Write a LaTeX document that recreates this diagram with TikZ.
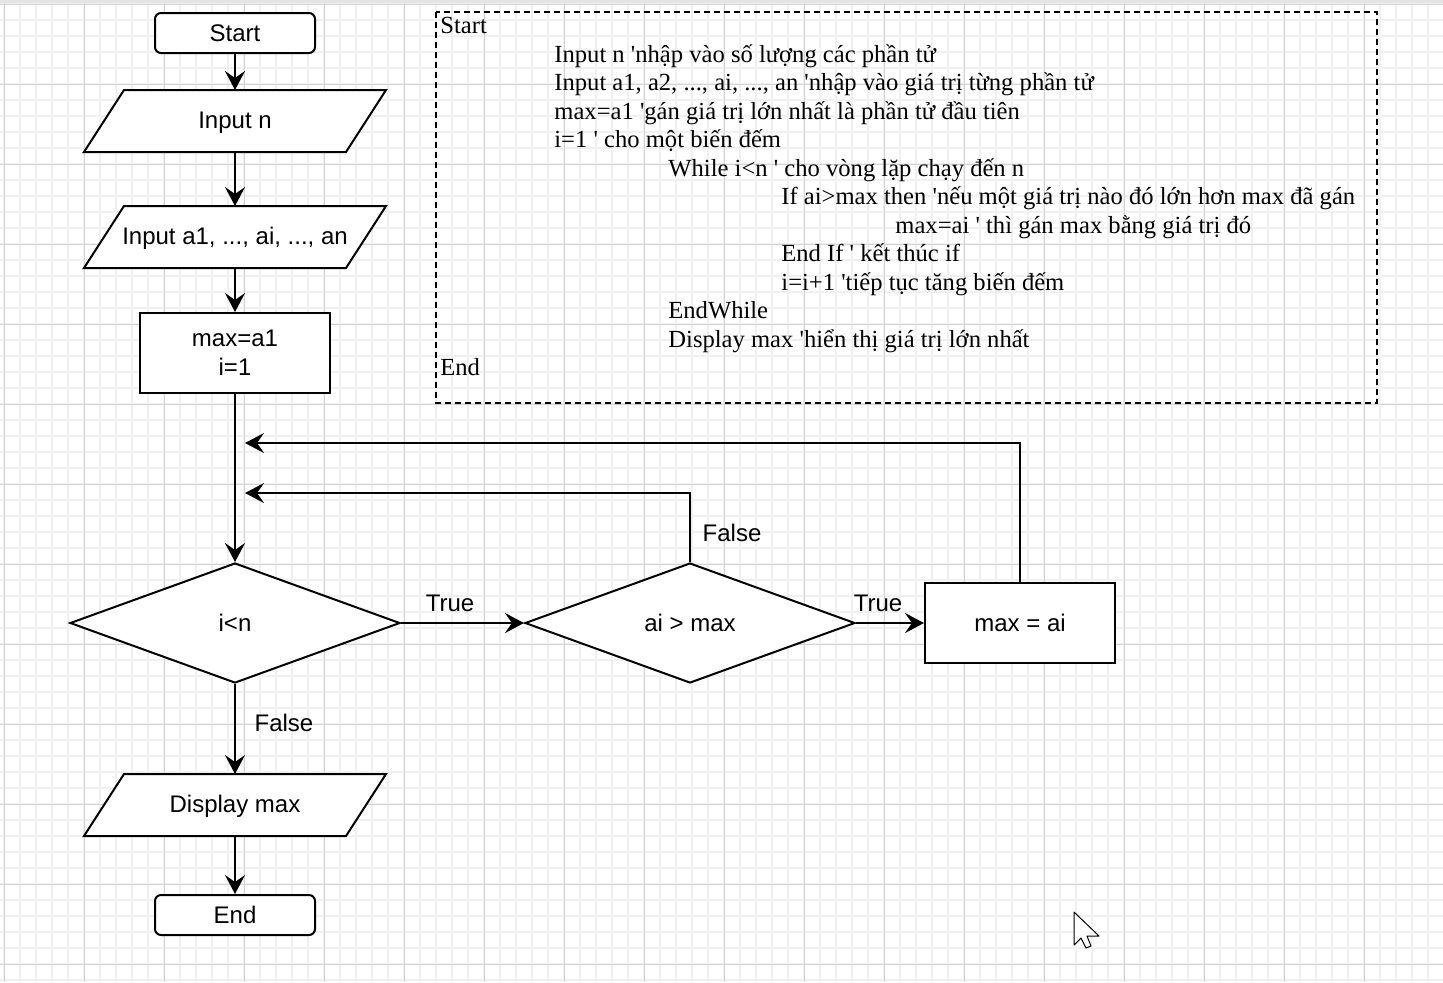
\documentclass[tikz,border=0pt]{standalone}
\usepackage{fontspec}
\usepackage{xcolor}
\usetikzlibrary{arrows.meta,shapes.geometric,backgrounds}
\newfontfamily\chartfont{Liberation Sans}
\newfontfamily\codefont{Liberation Serif}
\definecolor{GridMinor}{RGB}{240,240,240}
\definecolor{GridMajor}{RGB}{212,212,212}
\definecolor{BarGray}{RGB}{228,228,228}
% slanted frame round an input/output node
\newcommand{\ioframe}[1]{\filldraw[fill=white, line width=1pt]
  ([xshift=10pt]#1.north west) -- ([xshift=10pt]#1.north east) --
  ([xshift=-10pt]#1.south east) -- ([xshift=-10pt]#1.south west) -- cycle;}

\begin{document}
\begin{tikzpicture}[x=0.5pt, y=-0.5pt,
    box/.style={draw, line width=1pt, fill=white, inner sep=0pt, align=center,
      font=\chartfont\fontsize{12}{14.5}\selectfont},
    terminal/.style={box, rounded corners=3pt, minimum width=80pt, minimum height=20pt},
    io/.style={box, draw=none, fill=none, minimum width=130pt, minimum height=30pt,
      text height=10pt, text depth=2.5pt},
    process/.style={box, minimum width=95pt, minimum height=40pt},
    decision/.style={box, diamond, minimum width=165pt, minimum height=60pt},
    lbl/.style={inner sep=0pt, font=\chartfont\fontsize{12}{14.5}\selectfont},
    code/.style={anchor=base west, inner sep=0pt, font=\codefont\fontsize{12.3}{14.5}\selectfont},
    flow/.style={-{Stealth[length=9.5pt, width=10pt, inset=3.5pt]}, line width=1pt}]
  \useasboundingbox (0,0) rectangle (1443,982);
  % background grid
  \begin{scope}[on background layer]
    \fill[white] (0,0) rectangle (1443,982);
    \foreach \x in {4,20,...,1443} \draw[GridMinor, line width=0.75pt] (\x,0) -- (\x,982);
    \foreach \y in {4,20,...,982} \draw[GridMinor, line width=0.75pt] (0,\y) -- (1443,\y);
    \foreach \x in {4,84,...,1443} \draw[GridMajor, line width=0.5pt] (\x,0) -- (\x,982);
    \foreach \y in {4,84,...,982} \draw[GridMajor, line width=0.5pt] (0,\y) -- (1443,\y);
    \fill[BarGray] (0,0) rectangle (1443,3);
  \end{scope}

  % flowchart
  \node[terminal] (start) at (235,33) {Start};
  \node[io] (inpn) at (235,121) {Input n};
  \node[io] (inpa) at (235,237) {Input a1, ..., ai, ..., an};
  \node[process] (init) at (235,353) {max=a1\\i=1};
  \node[decision] (ilt) at (235,623) {i<n};
  \node[decision] (aig) at (690,623) {ai > max};
  \node[process] (mxa) at (1020,623) {max = ai};
  \node[io] (disp) at (235,805) {Display max};
  \node[terminal] (stop) at (235,915) {End};
  \coordinate (back1) at (245,443);
  \coordinate (back2) at (245,493);
  \begin{scope}[on background layer]
    \ioframe{inpn}
    \ioframe{inpa}
    \ioframe{disp}
  \end{scope}

  \draw[flow] (start) -- (inpn);
  \draw[flow] (inpn) -- (inpa);
  \draw[flow] (inpa) -- (init);
  \draw[flow] (init) -- (ilt);
  \draw[flow] (ilt) -- (aig);
  \draw[flow] (aig) -- (mxa);
  \draw[flow] (mxa.north) |- (back1);
  \draw[flow] (aig.north) |- (back2);
  \draw[flow] (ilt) -- (disp);
  \draw[flow] (disp) -- (stop);

  \node[lbl] (true1) at (450,603) {True};
  \node[lbl] (true2) at (878,603) {True};
  \node[lbl] (false1) at (732,533) {False};
  \node[lbl] (false2) at (284,723) {False};

  % pseudo code
  \draw[line width=1pt, dash pattern=on 3pt off 2pt] (436,12) rectangle (1377,403);
  \node[code] (cstart) at (440,33.5) {Start};
  \node[code] (cinpn) at (554,62) {Input n 'nhập vào số lượng các phần tử};
  \node[code] (cinpa) at (554,90.5) {Input a1, a2, ..., ai, ..., an 'nhập vào giá trị từng phần tử};
  \node[code] (cmax) at (554,119) {max=a1 'gán giá trị lớn nhất là phần tử đầu tiên};
  \node[code] (ci) at (554,147.5) {i=1 ' cho một biến đếm};
  \node[code] (cwhile) at (668,176) {While i<n ' cho vòng lặp chạy đến n};
  \node[code] (cif) at (781,204.5) {If ai>max then 'nếu một giá trị nào đó lớn hơn max đã gán};
  \node[code] (cset) at (895,233) {max=ai ' thì gán max bằng giá trị đó};
  \node[code] (cendif) at (781,261.5) {End If ' kết thúc if};
  \node[code] (cinc) at (781,290) {i=i+1 'tiếp tục tăng biến đếm};
  \node[code] (cendw) at (668,318.5) {EndWhile};
  \node[code] (cdisp) at (668,347) {Display max 'hiển thị giá trị lớn nhất};
  \node[code] (cend) at (440,375.5) {End};

  % mouse pointer
  \filldraw[fill=white, draw=black, line width=0.5pt, line join=round]
    (1074,912) -- (1074,945) -- (1081,938) -- (1086,948) -- (1091,946) -- (1087,936) -- (1099,936) -- cycle;
\end{tikzpicture}
\end{document}
